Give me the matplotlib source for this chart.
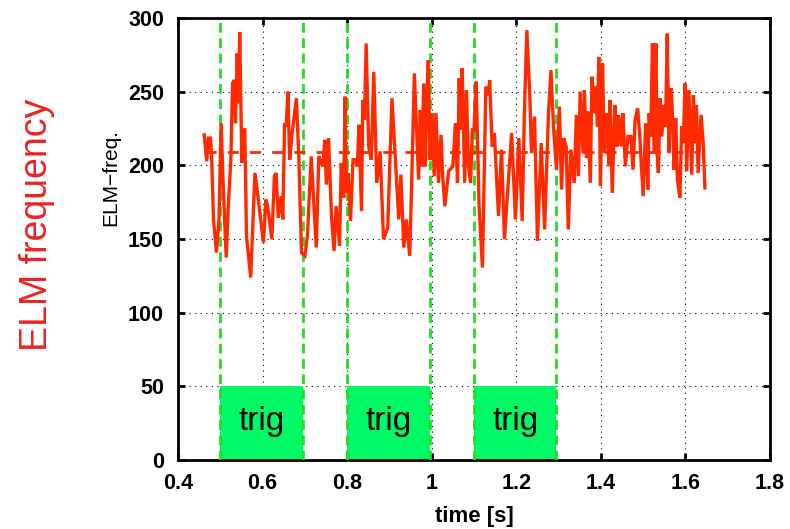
import matplotlib
matplotlib.use("Agg")
import matplotlib.pyplot as plt
from matplotlib.patches import Rectangle

# ELM frequency trace (time [s], frequency [Hz])
t = [0.462, 0.468, 0.472, 0.477, 0.480, 0.484, 0.491, 0.497, 0.502, 0.507,
     0.514, 0.519, 0.525, 0.529, 0.533, 0.536, 0.540, 0.543, 0.546, 0.549,
     0.551, 0.554, 0.558, 0.562, 0.572, 0.582, 0.590, 0.602, 0.608, 0.612,
     0.622, 0.628, 0.632, 0.637, 0.644, 0.648, 0.652, 0.656, 0.660, 0.664,
     0.670, 0.680, 0.686, 0.692, 0.700, 0.706, 0.715, 0.727, 0.733, 0.739,
     0.743, 0.747, 0.751, 0.756, 0.763, 0.769, 0.774, 0.782, 0.786, 0.792,
     0.795, 0.798, 0.802, 0.808, 0.814, 0.819, 0.824, 0.828, 0.834, 0.837,
     0.841, 0.845, 0.851, 0.857, 0.863, 0.870, 0.878, 0.886, 0.896, 0.906,
     0.922, 0.927, 0.934, 0.940, 0.948, 0.953, 0.959, 0.969, 0.973, 0.977,
     0.981, 0.985, 0.988, 0.992, 0.996, 1.001, 1.006, 1.010, 1.016, 1.022,
     1.026, 1.031, 1.040, 1.050, 1.056, 1.061, 1.065, 1.068, 1.072, 1.078,
     1.082, 1.087, 1.092, 1.096, 1.100, 1.105, 1.112, 1.120, 1.128, 1.134,
     1.137, 1.143, 1.148, 1.158, 1.165, 1.172, 1.189, 1.198, 1.206, 1.214,
     1.219, 1.225, 1.232, 1.236, 1.243, 1.250, 1.259, 1.267, 1.276, 1.282,
     1.288, 1.295, 1.302, 1.307, 1.312, 1.318, 1.323, 1.329, 1.337, 1.342,
     1.347, 1.351, 1.358, 1.361, 1.366, 1.369, 1.375, 1.379, 1.385, 1.388,
     1.392, 1.395, 1.399, 1.404, 1.408, 1.413, 1.419, 1.422, 1.427, 1.433,
     1.438, 1.442, 1.448, 1.452, 1.458, 1.464, 1.471, 1.476, 1.481, 1.487,
     1.492, 1.500, 1.506, 1.511, 1.514, 1.518, 1.522, 1.526, 1.530, 1.533,
     1.536, 1.540, 1.544, 1.549, 1.553, 1.557, 1.561, 1.566, 1.570, 1.573,
     1.577, 1.581, 1.587, 1.591, 1.595, 1.599, 1.603, 1.608, 1.615, 1.619,
     1.622, 1.626, 1.630, 1.637, 1.642, 1.646]
freq = [220.7, 202.7, 218.5, 218.5, 201.6, 163.3, 140.8, 163.3, 228.6, 185.8,
        137.4, 172.3, 203.8, 255.6, 257.9, 228.6, 275.9, 242.1, 290.5, 235.4,
        201.6, 224.1, 224.1, 152.0, 123.9, 194.8, 176.8, 147.5, 176.8, 172.3,
        149.8, 192.6, 194.8, 164.4, 179.1, 163.3, 228.6, 226.4, 250.0, 203.8,
        221.9, 245.5, 203.8, 140.8, 138.6, 152.0, 206.1, 144.2, 206.1, 201.6,
        199.3, 217.3, 186.9, 218.5, 165.6, 141.9, 172.3, 145.3, 201.6, 178.0,
        246.6, 181.3, 194.8, 162.2, 203.8, 203.8, 199.3, 227.5, 169.0, 244.4,
        230.9, 282.7, 212.8, 203.8, 263.5, 188.1, 209.5, 149.8, 157.7, 245.5,
        163.3, 193.7, 144.2, 163.3, 138.6, 192.6, 262.4, 190.3, 237.6, 199.3,
        255.6, 199.3, 242.1, 271.4, 203.8, 235.4, 192.6, 235.4, 188.1, 220.7,
        192.6, 172.3, 196.0, 199.3, 228.6, 188.1, 259.0, 224.1, 265.8, 188.1,
        251.1, 199.3, 188.1, 224.1, 224.1, 256.8, 172.3, 130.6, 253.4, 247.7,
        257.9, 212.8, 221.9, 165.6, 210.6, 149.8, 221.9, 163.3, 218.5, 162.2,
        234.2, 291.7, 246.6, 208.3, 233.1, 148.7, 215.1, 156.5, 234.2, 264.6,
        226.4, 197.1, 239.9, 183.6, 218.5, 212.8, 156.5, 210.6, 188.1, 234.2,
        192.6, 250.0, 208.3, 251.1, 205.0, 236.5, 188.1, 260.1, 235.4, 253.4,
        226.4, 273.6, 185.8, 269.1, 208.3, 235.4, 199.3, 244.4, 181.3, 241.0,
        212.8, 234.2, 212.8, 235.4, 199.3, 219.6, 219.6, 197.1, 230.9, 238.7,
        219.6, 179.1, 228.6, 183.6, 235.4, 219.6, 282.7, 208.3, 282.7, 208.3,
        194.8, 245.5, 219.6, 241.0, 226.4, 289.4, 208.3, 252.3, 230.9, 197.1,
        232.0, 190.3, 178.0, 226.4, 215.1, 255.6, 196.0, 251.1, 193.7, 247.7,
        215.1, 241.0, 194.8, 234.2, 215.1, 184.7]

mean_freq = 209
mean_span = [0.464, 1.625]

# trigger windows: start, end
trig_start = [0.5, 0.8, 1.1]
trig_end = [0.695, 0.995, 1.295]
trig_height = 50

xticks = [0.4, 0.6, 0.8, 1.0, 1.2, 1.4, 1.6, 1.8]
xticklabels = ["0.4", "0.6", "0.8", "1", "1.2", "1.4", "1.6", "1.8"]
yticks = [0, 50, 100, 150, 200, 250, 300]

plt.rcParams['font.family'] = ['Liberation Sans', 'DejaVu Sans']

fig = plt.figure(figsize=(7.9, 5.29), dpi=100)
ax = fig.add_axes([0.2253, 0.1304, 0.7494, 0.8356])

for s, e in zip(trig_start, trig_end):
    ax.add_patch(Rectangle((s, 0), e - s, trig_height, facecolor='#00f964',
                           edgecolor='none', zorder=2))
    ax.text((s + e) / 2, 26, "trig", ha='center', va='center', fontsize=24,
            color='black', zorder=5)
    for xv in (s, e):
        ax.plot([xv, xv], [0, 300], color='#22dd22', linestyle=(0, (3.5, 2)),
                linewidth=2, zorder=3)

ax.plot(mean_span, [mean_freq, mean_freq], color='#ff2a00', linestyle=(0, (4, 4)),
        linewidth=2, zorder=4)
ax.plot(t, freq, color='#ff2a00', linewidth=2.4, zorder=4, solid_joinstyle='miter')

ax.set_xlim(0.4, 1.8)
ax.set_ylim(0, 300)
ax.set_xticks(xticks)
ax.set_xticklabels(xticklabels)
ax.set_yticks(yticks)
ax.grid(True, color='black', linestyle=(0, (1, 4)), linewidth=0.8)
ax.set_axisbelow(True)

for sp in ax.spines.values():
    sp.set_linewidth(2)
ax.tick_params(direction='in', length=5, width=2, top=True, right=True,
               labelsize=15.5)
ax.tick_params(axis='x', pad=9)
ax.tick_params(axis='y', pad=10)
for lab in ax.get_xticklabels() + ax.get_yticklabels():
    lab.set_fontweight('bold')

ax.set_xlabel("time [s]", fontsize=16, fontweight='bold')
ax.xaxis.set_label_coords(0.5, -0.103)
ax.set_ylabel("ELM\u2212freq.", fontsize=15)
ax.yaxis.set_label_coords(-0.098, 0.64)

fig.text(0.047, 0.575, "ELM frequency", rotation=90, ha='center', va='center',
         fontsize=27, color='#ee2222')

fig.savefig("out.png", dpi=100)
